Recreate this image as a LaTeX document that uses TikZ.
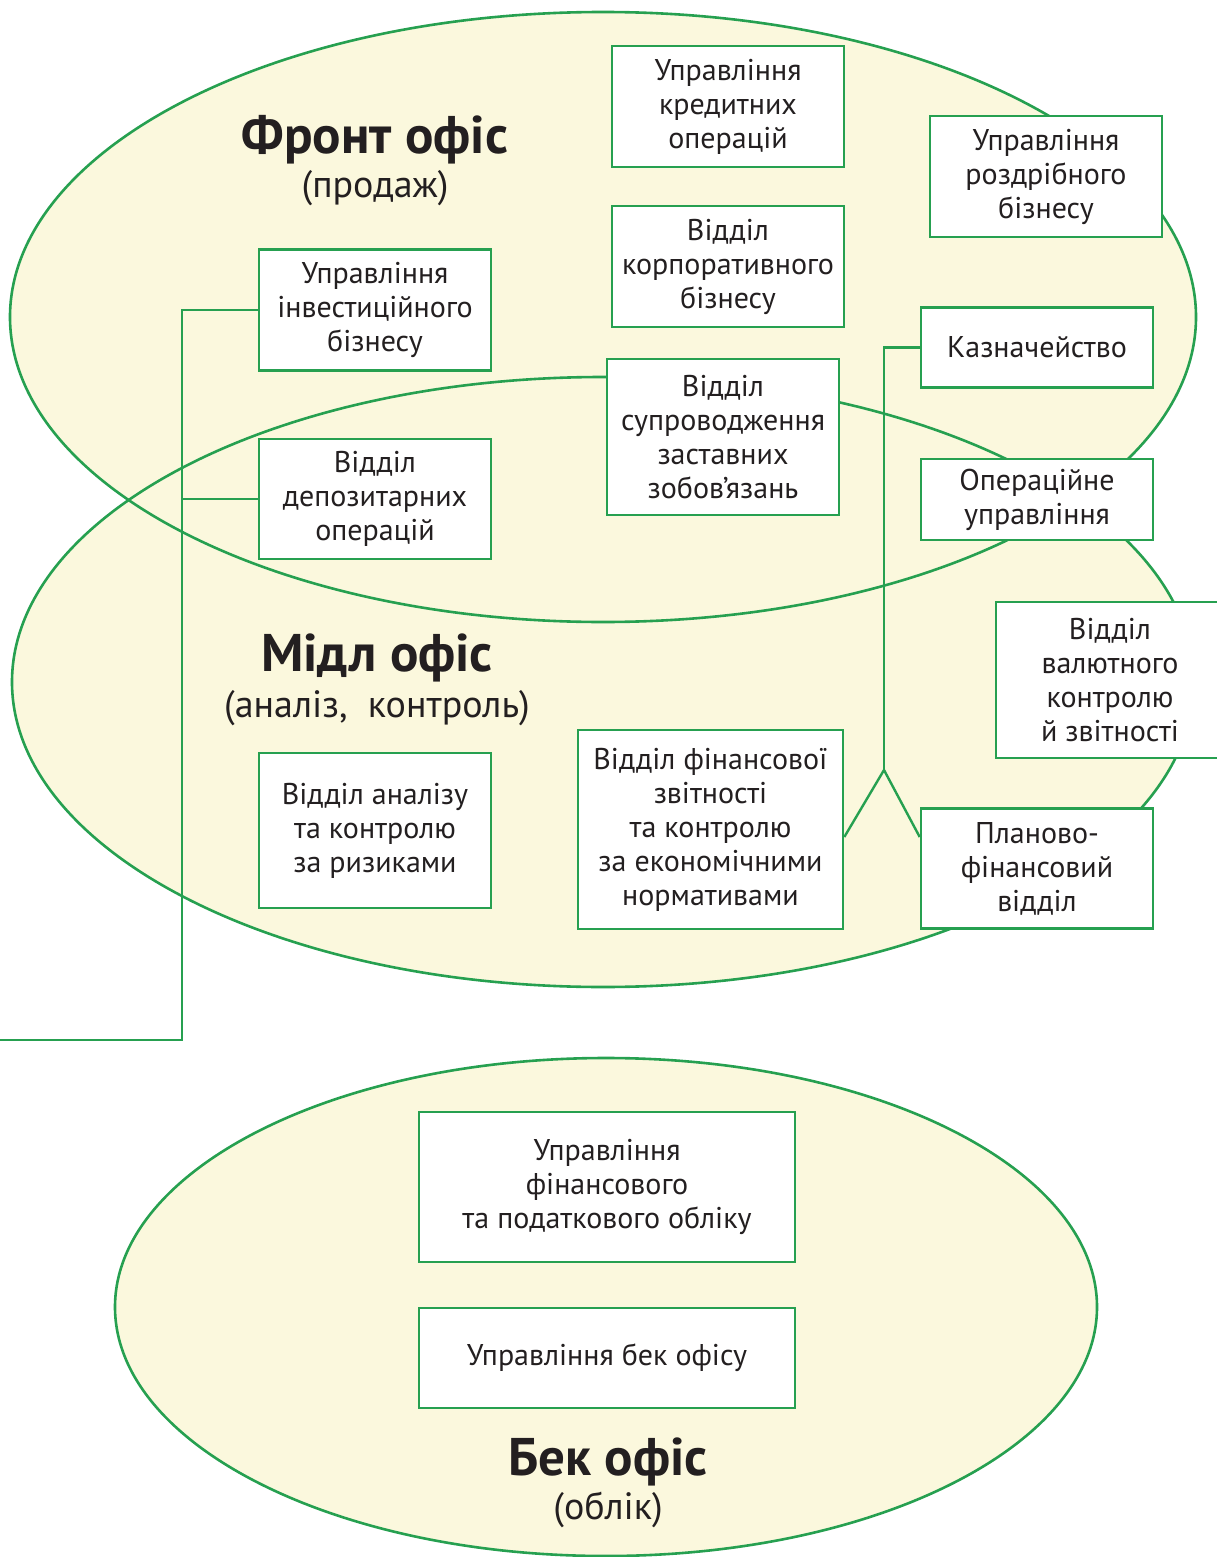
\documentclass[tikz,border=0pt]{standalone}
\usepackage{fontspec}
\setmainfont{PT Sans}
\usetikzlibrary{calc}
\definecolor{gr}{HTML}{26A050}
\definecolor{cream}{HTML}{FBF8DD}
\definecolor{txt}{HTML}{231F20}
\begin{document}
\begin{tikzpicture}[x=1pt,y=-1pt,
  box/.style={draw=gr, line width=2.6pt, fill=white, align=center, inner sep=0pt, text=txt, font=\fontsize{30}{34}\selectfont},
  ovalfill/.style={fill=cream},
  ovalline/.style={draw=gr, line width=2.6pt},
  conn/.style={draw=gr, line width=2.4pt},
  title/.style={font=\bfseries\fontsize{53}{60}\selectfont, text=txt, inner sep=0pt},
  sub/.style={font=\fontsize{38}{44}\selectfont, text=txt, inner sep=0pt}]
\path[use as bounding box] (0,0) rectangle (1217,1557);
\clip (0,0) rectangle (1217,1557);
% ovals
\path[ovalfill] (603,317) ellipse [x radius=593pt, y radius=305pt];
\path[ovalfill] (603,682) ellipse [x radius=591pt, y radius=305pt];
\path[ovalfill] (606,1307) ellipse [x radius=491pt, y radius=249pt];
\path[ovalline] (603,317) ellipse [x radius=593pt, y radius=305pt];
\path[ovalline] (603,682) ellipse [x radius=591pt, y radius=305pt];
\path[ovalline] (606,1307) ellipse [x radius=491pt, y radius=249pt];
% titles
\node[title] (tfront) at (375,140) {Фронт офіс};
\node[sub] (sfront) at (375,188) {(продаж)};
\node[title] (tmid) at (377,658) {Мідл офіс};
\node[sub] (smid) at (377,708) {(аналіз,\ \ контроль)};
\node[title] (tback) at (608,1462) {Бек офіс};
\node[sub] (sback) at (608,1510) {(облік)};
% boxes
\node[box, minimum width=232pt, minimum height=121pt] (b1) at (728,106.5) {Управління\\кредитних\\операцій};
\node[box, minimum width=232pt, minimum height=121pt] (b2) at (1046,176.5) {Управління\\роздрібного\\бізнесу};
\node[box, minimum width=232pt, minimum height=121pt] (b3) at (728,266.5) {Відділ\\корпоративного\\бізнесу};
\node[box, minimum width=232pt, minimum height=121pt] (b4) at (375,310) {Управління\\інвестиційного\\бізнесу};
\node[box, minimum width=232pt, minimum height=80pt] (b5) at (1037,347.5) {Казначейство};
\node[box, minimum width=232pt, minimum height=156pt] (b6) at (723,437) {Відділ\\супроводження\\заставних\\зобов\symbol{39}язань};
\node[box, minimum width=232pt, minimum height=120pt] (b7) at (375,499) {Відділ\\депозитарних\\операцій};
\node[box, minimum width=232pt, minimum height=81pt] (b8) at (1037,499.5) {Операційне\\управління};
\node[box, minimum width=228pt, minimum height=156pt] (b9) at (1110,680) {Відділ\\валютного\\контролю\\й звітності};
\node[box, minimum width=232pt, minimum height=155pt] (b10) at (375,830.5) {Відділ аналізу\\та контролю\\за ризиками};
\node[box, minimum width=265pt, minimum height=199pt] (b11) at (710.5,829.5) {Відділ фінансової\\звітності\\та контролю\\за економічними\\нормативами};
\node[box, minimum width=232pt, minimum height=120pt] (b12) at (1037,868.5) {Планово-\\фінансовий\\відділ};
\node[box, minimum width=376pt, minimum height=150pt] (b13) at (607,1187) {Управління\\фінансового\\та податкового обліку};
\node[box, minimum width=376pt, minimum height=100pt] (b14) at (607,1358) {Управління бек офісу};
% connector coordinates
\coordinate (lj) at (182,1040);
\coordinate (lend) at (-5,1040);
\coordinate (rj) at (884,770);
% connectors
\draw[conn] (b4.west) -| (lj) -- (lend);
\draw[conn] (b7.west) -- (b7.west -| lj);
\draw[conn] (b5.west) -| (rj);
\draw[conn] ([yshift=-7.5pt]b11.east) -- (rj) -- ([yshift=31.5pt]b12.west);
\end{tikzpicture}
\end{document}
